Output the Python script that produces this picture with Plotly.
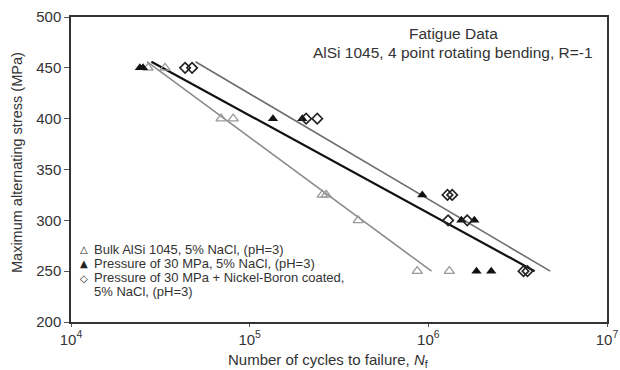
import numpy as np
import plotly.graph_objects as go

# ---- data ----
bulk_N = [27000, 33600, 69200, 80900, 255000, 268000, 405000, 867000, 1310000]
bulk_S = [450, 450, 400, 400, 325, 325, 300, 250, 250]

press_N = [24300, 25300, 135000, 197000, 925000, 1530000, 1810000, 1860000, 2250000]
press_S = [450, 450, 400, 400, 325, 300, 300, 250, 250]

coat_N = [43500, 47600, 207000, 239000, 1280000, 1360000, 1290000, 1650000, 3410000, 3590000]
coat_S = [450, 450, 400, 400, 325, 325, 300, 300, 250, 250]

fit_stress_range = [456, 250]   # stress span over which each fit line is drawn

legend_labels = [
    "Bulk AlSi 1045, 5% NaCl, (pH=3)",
    "Pressure of 30 MPa, 5% NaCl, (pH=3)",
    "Pressure of 30 MPa + Nickel-Boron coated,",
    "5% NaCl, (pH=3)",
]
legend_symbols = ["△", "▲", "◇", ""]
title_lines = ["Fatigue Data", "AlSi 1045, 4 point rotating bending, R=-1"]
x_title = "Number of cycles to failure, <i>N</i><sub>f</sub>"
y_title = "Maximum alternating stress (MPa)"
y_ticks = [200, 250, 300, 350, 400, 450, 500]
x_ticks = [1e4, 1e5, 1e6, 1e7]
x_ticktext = ["10<sup>4</sup>", "10<sup>5</sup>", "10<sup>6</sup>", "10<sup>7</sup>"]

FONT = "Liberation Sans, Arial, sans-serif"
TXT = "#333333"

# plot-area geometry (pixels)
L, R, T, B = 71, 13, 17, 48
W, H = 620, 370
PW, PH = W - L - R, H - T - B


def px_x(p):
    return (p - L) / PW


def px_y(p):
    return 1 - (p - T) / PH


def fit_line(N, S):
    slope, icpt = np.polyfit(np.log10(N), S, 1)
    s = np.array(fit_stress_range, dtype=float)
    return 10 ** ((s - icpt) / slope), s


fig = go.Figure()

for N, S, col, w in [
    (bulk_N, bulk_S, "#8c8c8c", 1.6),
    (coat_N, coat_S, "#6e6e6e", 1.6),
    (press_N, press_S, "#111111", 2.2),
]:
    fx, fy = fit_line(N, S)
    fig.add_trace(go.Scatter(x=fx, y=fy, mode="lines", showlegend=False,
                             line=dict(color=col, width=w), hoverinfo="skip"))

fig.add_trace(go.Scatter(
    x=bulk_N, y=bulk_S, mode="markers", name=legend_labels[0],
    marker=dict(symbol="triangle-up-open", size=9, color="#9a9a9a",
                line=dict(width=1.3, color="#9a9a9a"))))
fig.add_trace(go.Scatter(
    x=press_N, y=press_S, mode="markers", name=legend_labels[1],
    marker=dict(symbol="triangle-up", size=9, color="#111111")))
fig.add_trace(go.Scatter(
    x=coat_N, y=coat_S, mode="markers", name=legend_labels[2] + " " + legend_labels[3],
    marker=dict(symbol="diamond-open", size=8, color="#222222",
                line=dict(width=1.6, color="#222222"))))

# title block
for txt, yy in zip(title_lines, [33, 52]):
    fig.add_annotation(text=txt, x=px_x(453), y=px_y(yy), xref="paper", yref="paper",
                       xanchor="center", yanchor="middle", showarrow=False,
                       font=dict(size=15.5, color=TXT, family=FONT))

# legend block (symbols + labels), one row each
for i, (s, lab) in enumerate(zip(legend_symbols, legend_labels)):
    yy = 249 + i * 14.3
    if s:
        fig.add_annotation(text=s, x=px_x(84), y=px_y(yy + 0.5), xref="paper", yref="paper",
                           xanchor="center", yanchor="middle", showarrow=False,
                           font=dict(size=10, color="#222222", family="DejaVu Sans"))
    fig.add_annotation(text=lab, x=px_x(92), y=px_y(yy), xref="paper", yref="paper",
                       xanchor="left", yanchor="middle", showarrow=False,
                       font=dict(size=13, color=TXT, family=FONT))

# axis titles
fig.add_annotation(text=x_title, x=px_x(328), y=px_y(360), xref="paper", yref="paper",
                   xanchor="center", yanchor="middle", showarrow=False,
                   font=dict(size=15, color=TXT, family=FONT))
fig.add_annotation(text=y_title, x=px_x(17), y=px_y(163), xref="paper", yref="paper",
                   xanchor="center", yanchor="middle", textangle=-90, showarrow=False,
                   font=dict(size=14.5, color=TXT, family=FONT))

fig.update_layout(
    width=W, height=H,
    margin=dict(l=L, r=R, t=T, b=B),
    paper_bgcolor="white", plot_bgcolor="white",
    font=dict(family=FONT, size=13, color=TXT),
    showlegend=False,
    xaxis=dict(type="log", range=[4, 7], tickvals=x_ticks, ticktext=x_ticktext,
               automargin=False,
               showgrid=False, zeroline=False, showline=True, linecolor="#333333",
               linewidth=1.5, mirror=True, ticks="outside", ticklen=3,
               tickcolor="#555555", tickfont=dict(size=15)),
    yaxis=dict(range=[200, 500], tickvals=y_ticks, showgrid=False, zeroline=False,
               automargin=False,
               showline=True, linecolor="#333333", linewidth=1.5, mirror=True,
               ticks="outside", ticklen=5, tickcolor="#555555", tickfont=dict(size=15)),
)

fig.write_html("out.html", config={"displayModeBar": False},
               post_script="document.body.style.margin='0';document.body.style.overflow='hidden';")
